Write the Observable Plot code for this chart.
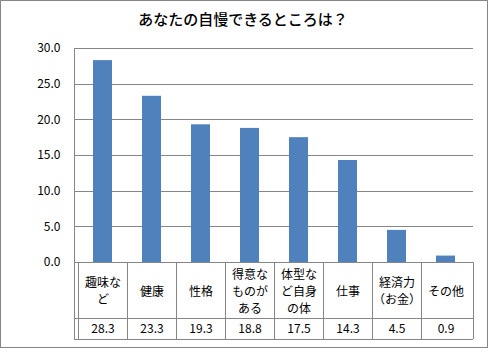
<!DOCTYPE html>
<html>
<head>
<meta charset="utf-8">
<script src="https://cdn.jsdelivr.net/npm/d3@7"></script>
<script src="https://cdn.jsdelivr.net/npm/@observablehq/plot@0.6"></script>
<style>
  html, body { margin: 0; padding: 0; background: #fff; }
  #chart svg { display: block; }
</style>
</head>
<body>
<div id="chart"></div>
<script>
const title = "あなたの自慢できるところは？";
const categories = ["趣味など", "健康", "性格", "得意なものがある", "体型など自身の体", "仕事", "経済力（お金）", "その他"];
const labelLines = ["趣味な\nど", "健康", "性格", "得意な\nものが\nある", "体型な\nど自身\nの体", "仕事", "経済力\n（お金）", "その他"];
const values = [28.3, 23.3, 19.3, 18.8, 17.5, 14.3, 4.5, 0.9];
const yTicks = [0, 5, 10, 15, 20, 25, 30];

const data = categories.map((c, i) => ({cat: c, label: labelLines[i], value: values[i]}));

const W = 491, H = 351;
const mL = 74, mR = 18, mT = 48, mB = 89;
const row1 = 56, row2 = 77;
const lineColor = "#868686";
const font = "'Noto Sans CJK JP', 'Noto Sans', sans-serif";

const table = (index, scales, vals, dims) => {
  const x = scales.x;
  const g = d3.create("svg:g").attr("fill", "none").attr("stroke", lineColor).attr("shape-rendering", "crispEdges");
  const left = dims.marginLeft, right = dims.width - dims.marginRight;
  const y0 = dims.height - dims.marginBottom;
  // outer border
  g.append("rect").attr("x", 0.5).attr("y", 0.5).attr("width", 487).attr("height", 347);
  // left axis line
  g.append("line").attr("x1", left).attr("x2", left).attr("y1", dims.marginTop).attr("y2", y0 + row2);
  // horizontal table lines
  for (const dy of [row1, row2]) {
    g.append("line").attr("x1", left).attr("x2", right).attr("y1", y0 + dy).attr("y2", y0 + dy);
  }
  // vertical table lines
  const edges = categories.map(c => x(c)).concat([right]);
  for (const e of edges) {
    g.append("line").attr("x1", e).attr("x2", e).attr("y1", y0).attr("y2", y0 + row2);
  }
  return g.node();
};

const chart = Plot.plot({
  width: W,
  height: H,
  marginLeft: mL,
  marginRight: mR,
  marginTop: mT,
  marginBottom: mB,
  style: {fontFamily: font, fontSize: "12px", color: "#000", background: "#fff"},
  x: {type: "band", domain: categories, padding: 0, axis: null},
  y: {domain: [0, 30], ticks: yTicks, tickFormat: d3.format(".1f"), tickSize: 0, tickPadding: 14, label: null},
  marks: [
    Plot.ruleY(yTicks, {stroke: lineColor, strokeOpacity: 1, shapeRendering: "crispEdges"}),
    Plot.barY(data, {x: "cat", y: "value", fill: "#4F81BD", insetLeft: 15, insetRight: 15}),
    table,
    Plot.text(data, {x: "cat", text: "label", frameAnchor: "bottom", dy: 28, lineAnchor: "middle", lineHeight: 1.4, fontSize: 12, fill: "#000"}),
    Plot.text(data, {x: "cat", text: d => d.value.toFixed(1), frameAnchor: "bottom", dy: 67, lineAnchor: "middle", fontSize: 12, fill: "#000"}),
    Plot.text([title], {frameAnchor: "top", dx: -31, dy: -28, lineAnchor: "middle", fontSize: 15, fontWeight: 500, fill: "#000"})
  ]
});
document.getElementById("chart").appendChild(chart);
</script>
</body>
</html>
